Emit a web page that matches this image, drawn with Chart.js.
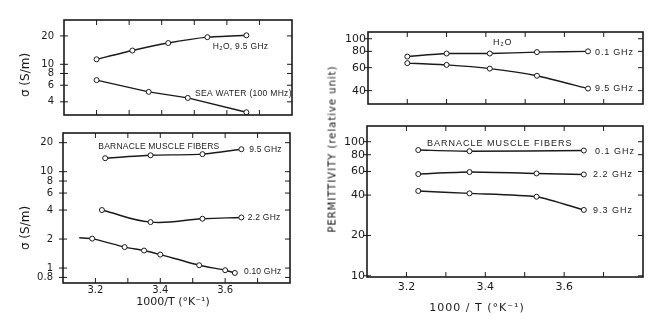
<!DOCTYPE html>
<html>
<head>
<meta charset="utf-8">
<script src="https://cdn.jsdelivr.net/npm/chart.js@4"></script>
<style>
  html, body { margin: 0; padding: 0; background: #fff; }
  #wrap { position: relative; width: 670px; height: 335px; overflow: hidden; font-family: "DejaVu Sans", sans-serif; color: #1a1a1a; }
  canvas { position: absolute; }
  .ttl { position: absolute; white-space: nowrap; transform: translate(-50%, -50%); }
  .rot { transform: translate(-50%, -50%) rotate(-90deg); }
</style>
</head>
<body>
<div id="wrap">
  <canvas id="c1" width="300" height="125" style="left:0;top:0"></canvas>
  <canvas id="c2" width="300" height="210" style="left:0;top:125px"></canvas>
  <canvas id="c3" width="370" height="120" style="left:300px;top:0"></canvas>
  <canvas id="c4" width="370" height="215" style="left:300px;top:120px"></canvas>

  <div class="ttl rot" style="left:25px;top:75px;font-size:12px">σ (S/m)</div>
  <div class="ttl rot" style="left:25px;top:228px;font-size:12px">σ (S/m)</div>
  <div class="ttl" style="left:173px;top:301px;font-size:11px">1000/T (°K⁻¹)</div>
  <div class="ttl rot" style="left:332px;top:149px;font-size:10px;letter-spacing:1px;color:#111">PERMITTIVITY (relative unit)</div>
  <div class="ttl" style="left:477px;top:307px;font-size:11px;letter-spacing:1px">1000 / T (°K⁻¹)</div>
</div>
<script>
const INK = "#1a1a1a";
const X_MIN = 3.1, X_MAX = 3.8;
const X_MINOR = [3.2, 3.3, 3.4, 3.5, 3.6, 3.7];
const X_LABELS = [3.2, 3.4, 3.6];

// conductivity, water
const h2oT = [3.20, 3.31, 3.42, 3.54, 3.66];
const h2oSigma = [11.3, 14.0, 16.8, 19.4, 20.3];
const seaT = [3.20, 3.36, 3.48, 3.66];
const seaSigma = [6.8, 5.1, 4.4, 3.1];
const sigmaTicksTop = [4, 6, 8, 10, 20];

// conductivity, barnacle muscle
const m95T = [3.23, 3.37, 3.53, 3.65];
const m95Sigma = [13.8, 14.8, 15.2, 17.1];
const m22T = [3.22, 3.37, 3.53, 3.65];
const m22Sigma = [4.0, 3.0, 3.25, 3.35];
const m01T = [3.15, 3.19, 3.29, 3.35, 3.40, 3.52, 3.60, 3.63];
const m01Sigma = [2.06, 2.02, 1.65, 1.52, 1.38, 1.07, 0.95, 0.89];
const sigmaTicksBottom = [0.8, 1, 2, 4, 6, 8, 10, 20];

// permittivity, water
const w01T = [3.20, 3.30, 3.41, 3.53, 3.66];
const w01Eps = [73, 77, 77, 79, 80];
const w95T = [3.20, 3.30, 3.41, 3.53, 3.66];
const w95Eps = [65, 63, 59, 52, 41.5];
const epsTicksTop = [40, 60, 80, 100];

// permittivity, barnacle muscle
const e01T = [3.23, 3.36, 3.65];
const e01Eps = [86.7, 85, 86];
const e22T = [3.23, 3.36, 3.53, 3.65];
const e22Eps = [57.4, 59.4, 58, 57];
const e93T = [3.23, 3.36, 3.53, 3.65];
const e93Eps = [42.9, 41.2, 38.9, 31];
const epsTicksBottom = [10, 20, 40, 60, 80, 100];

const framePlugin = {
  id: "frame",
  afterDraw(chart, args, opts) {
    const { ctx, chartArea: a, scales: { x, y } } = chart;
    ctx.save();
    ctx.strokeStyle = INK;
    ctx.lineWidth = 1.6;
    ctx.strokeRect(a.left, a.top, a.right - a.left, a.bottom - a.top);
    ctx.lineWidth = 1;
    ctx.beginPath();
    X_MINOR.forEach(v => {
      const px = x.getPixelForValue(v);
      ctx.moveTo(px, a.top); ctx.lineTo(px, a.top + 5);
      ctx.moveTo(px, a.bottom); ctx.lineTo(px, a.bottom - 5);
    });
    opts.yTicks.forEach(v => {
      const py = y.getPixelForValue(v);
      ctx.moveTo(a.left - 4, py); ctx.lineTo(a.left + 4, py);
      ctx.moveTo(a.right, py); ctx.lineTo(a.right - 5, py);
    });
    ctx.stroke();
    ctx.fillStyle = INK;
    ctx.textBaseline = "middle";
    ctx.font = opts.noteFont;
    ctx.letterSpacing = opts.noteSpacing;
    opts.notes.forEach(n => ctx.fillText(n.text, x.getPixelForValue(n.x), y.getPixelForValue(n.y)));
    ctx.restore();
  }
};

function makeChart(id, box, cfg) {
  const tickFont = { family: "DejaVu Sans", size: cfg.tickSize };
  return new Chart(document.getElementById(id), {
    type: "line",
    data: {
      datasets: cfg.series.map(s => ({
        data: s.x.map((v, i) => ({ x: v, y: s.y[i] })),
        borderColor: INK,
        borderWidth: 1.4,
        tension: s.tension ?? 0.2,
        pointRadius: s.radius ?? 2.5,
        pointBackgroundColor: "#fff",
        pointBorderColor: INK,
        pointBorderWidth: 1,
        fill: false,
      })),
    },
    options: {
      responsive: false,
      animation: false,
      devicePixelRatio: 1,
      layout: { padding: { left: 0, top: box.top, right: box.right, bottom: 0 } },
      plugins: {
        legend: { display: false },
        tooltip: { enabled: false },
        frame: { yTicks: cfg.yTicks, notes: cfg.notes, noteFont: cfg.noteFont, noteSpacing: cfg.noteSpacing },
      },
      scales: {
        x: {
          type: "linear", min: X_MIN, max: X_MAX,
          grid: { display: false, drawTicks: false }, border: { display: false },
          afterBuildTicks: s => { s.ticks = X_LABELS.map(v => ({ value: v })); },
          afterFit: s => { s.height = box.xh; s.paddingLeft = 0; s.paddingRight = 0; },
          ticks: { display: cfg.xLabels, color: INK, font: tickFont, padding: cfg.xPad, maxRotation: 0,
                   callback: v => v.toFixed(1) },
        },
        y: {
          type: "logarithmic", min: cfg.yMin, max: cfg.yMax,
          grid: { display: false, drawTicks: false }, border: { display: false },
          afterBuildTicks: s => { s.ticks = cfg.yTicks.map(v => ({ value: v })); },
          afterFit: s => { s.width = box.yw; s.paddingTop = 0; s.paddingBottom = 0; },
          ticks: { color: INK, font: tickFont, padding: cfg.yPad, callback: v => String(v) },
        },
      },
    },
    plugins: [framePlugin],
  });
}

makeChart("c1", { top: 20, right: 8, yw: 64, xh: 10 }, {
  yMin: 2.9, yMax: 29.5, yTicks: sigmaTicksTop, xLabels: false, tickSize: 10, yPad: 10, xPad: 2,
  noteFont: '8.5px "Liberation Sans"', noteSpacing: "0.3px",
  series: [{ x: h2oT, y: h2oSigma }, { x: seaT, y: seaSigma, tension: 0 }],
  notes: [
    { text: "H₂O, 9.5 GHz", x: 3.557, y: 15.3 },
    { text: "SEA WATER (100 MHz)", x: 3.502, y: 4.86 },
  ],
});

makeChart("c2", { top: 8, right: 10, yw: 63, xh: 52 }, {
  yMin: 0.70, yMax: 25.2, yTicks: sigmaTicksBottom, xLabels: true, tickSize: 10, yPad: 10, xPad: 1,
  noteFont: '8.5px "Liberation Sans"', noteSpacing: "0.2px",
  series: [
    { x: m95T, y: m95Sigma },
    { x: m22T, y: m22Sigma, tension: 0.4 },
    { x: m01T, y: m01Sigma, radius: [0, 2.5, 2.5, 2.5, 2.5, 2.5, 2.5, 2.5] },
  ],
  notes: [
    { text: "BARNACLE MUSCLE FIBERS", x: 3.209, y: 18.0 },
    { text: "9.5 GHz", x: 3.674, y: 16.8 },
    { text: "2.2 GHz", x: 3.670, y: 3.32 },
    { text: "0.10 GHz", x: 3.658, y: 0.92 },
  ],
});

makeChart("c3", { top: 32, right: 27, yw: 68, xh: 16 }, {
  yMin: 31.6, yMax: 112.6, yTicks: epsTicksTop, xLabels: false, tickSize: 11, yPad: 2, xPad: 2,
  noteFont: '9px "Liberation Sans"', noteSpacing: "0.8px",
  series: [{ x: w01T, y: w01Eps }, { x: w95T, y: w95Eps }],
  notes: [
    { text: "H₂O", x: 3.418, y: 93 },
    { text: "0.1 GHz", x: 3.678, y: 78 },
    { text: "9.5 GHz", x: 3.678, y: 41.2 },
  ],
});

makeChart("c4", { top: 6, right: 27, yw: 67, xh: 58 }, {
  yMin: 9.8, yMax: 131, yTicks: epsTicksBottom, xLabels: true, tickSize: 11, yPad: 2, xPad: 4,
  noteFont: '9px "Liberation Sans"', noteSpacing: "1px",
  series: [{ x: e01T, y: e01Eps }, { x: e22T, y: e22Eps }, { x: e93T, y: e93Eps }],
  notes: [
    { text: "BARNACLE MUSCLE FIBERS", x: 3.252, y: 97.8 },
    { text: "0.1 GHz", x: 3.678, y: 85.2 },
    { text: "2.2 GHz", x: 3.673, y: 57.4 },
    { text: "9.3 GHz", x: 3.673, y: 30.9 },
  ],
});
</script>
</body>
</html>
